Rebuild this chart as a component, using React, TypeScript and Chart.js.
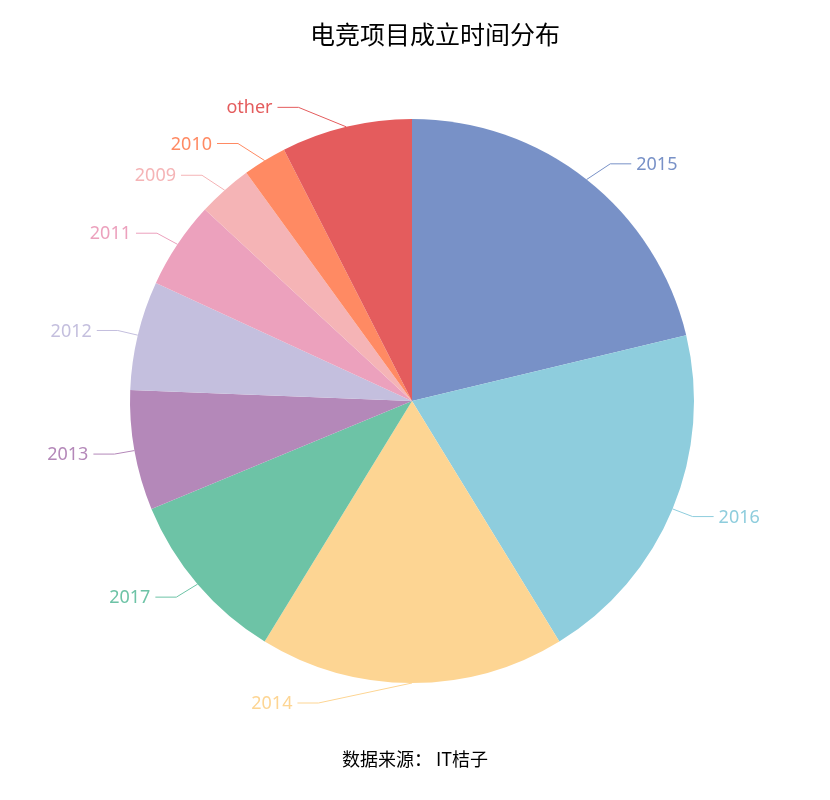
import { useEffect, useRef } from "react";
import { Chart, registerables } from "chart.js";

Chart.register(...registerables);

const TITLE = "电竞项目成立时间分布";
const SOURCE = "数据来源： IT桔子";

const years = ["2015", "2016", "2014", "2017", "2013", "2012", "2011", "2009", "2010", "other"];
const counts = [34, 32, 28, 16, 11, 10, 8, 5, 4, 12];
const colors = [
  "#7891c7",
  "#8ecddd",
  "#fdd593",
  "#6dc3a6",
  "#b488b9",
  "#c4bfde",
  "#eca1bd",
  "#f5b4b6",
  "#ff8a63",
  "#e45c5d",
];

const LABEL_FONT = "18px 'Noto Sans', 'Noto Sans CJK SC', sans-serif";

// echarts-like outside labels: radial segment, then horizontal one, then text
const pieLabels = {
  id: "pieLabels",
  afterDatasetsDraw(chart: Chart) {
    const ctx = chart.ctx;
    const meta = chart.getDatasetMeta(0);
    const len = 20;
    const len2 = 21;
    ctx.save();
    ctx.font = LABEL_FONT;
    ctx.textBaseline = "middle";
    ctx.lineWidth = 1;
    meta.data.forEach((el: any, i: number) => {
      const { x, y, startAngle, endAngle, outerRadius } = el.getProps(
        ["x", "y", "startAngle", "endAngle", "outerRadius"],
        true
      );
      const mid = (startAngle + endAngle) / 2;
      const r = outerRadius;
      const ex = x + r * Math.cos(mid);
      const ey = y + r * Math.sin(mid);
      const side = Math.cos(mid) > 0.01 ? 1 : -1;
      const ly = y + (r + len) * Math.sin(mid);
      const dy = Math.abs(ly - y);
      const R = r + len + len2;
      const dx = dy <= r + len + 1 ? Math.sqrt(R * R - dy * dy) : Math.abs(ex - x) + len2;
      const ax = x + side * dx;
      const bx = ax - side * len2;
      ctx.strokeStyle = colors[i];
      ctx.beginPath();
      ctx.moveTo(ex, ey);
      ctx.lineTo(bx, ly);
      ctx.lineTo(ax, ly);
      ctx.stroke();
      ctx.fillStyle = colors[i];
      ctx.textAlign = side > 0 ? "left" : "right";
      ctx.fillText(years[i], ax + side * 5, ly + 1);
    });
    ctx.restore();
  },
  afterDraw(chart: Chart) {
    const ctx = chart.ctx;
    ctx.save();
    ctx.fillStyle = "#000";
    ctx.textAlign = "center";
    ctx.textBaseline = "middle";
    ctx.font = "25px 'Noto Sans CJK SC', sans-serif";
    ctx.fillText(TITLE, 435, 34);
    ctx.font = "18px 'Noto Sans CJK SC', sans-serif";
    ctx.fillText(SOURCE, 415, 759);
    ctx.restore();
  },
};

function PieChart() {
  const canvasRef = useRef<HTMLCanvasElement>(null);

  useEffect(() => {
    if (!canvasRef.current) return;
    const chart = new Chart(canvasRef.current, {
      type: "pie",
      data: {
        labels: years,
        datasets: [
          {
            data: counts,
            backgroundColor: colors,
            borderWidth: 0,
            hoverOffset: 0,
            offset: 0,
          },
        ],
      },
      options: {
        responsive: false,
        animation: false,
        layout: { padding: { left: 130, right: 136, top: 119, bottom: 117 } },
        plugins: {
          legend: { display: false },
          tooltip: { enabled: false },
        },
      },
      plugins: [pieLabels],
    });
    return () => chart.destroy();
  }, []);

  return <canvas ref={canvasRef} width={830} height={800} />;
}

export default function App() {
  useEffect(() => {
    document.body.style.margin = "0";
  }, []);
  return (
    <div style={{ width: 830, height: 800, background: "#fff" }}>
      <PieChart />
    </div>
  );
}
